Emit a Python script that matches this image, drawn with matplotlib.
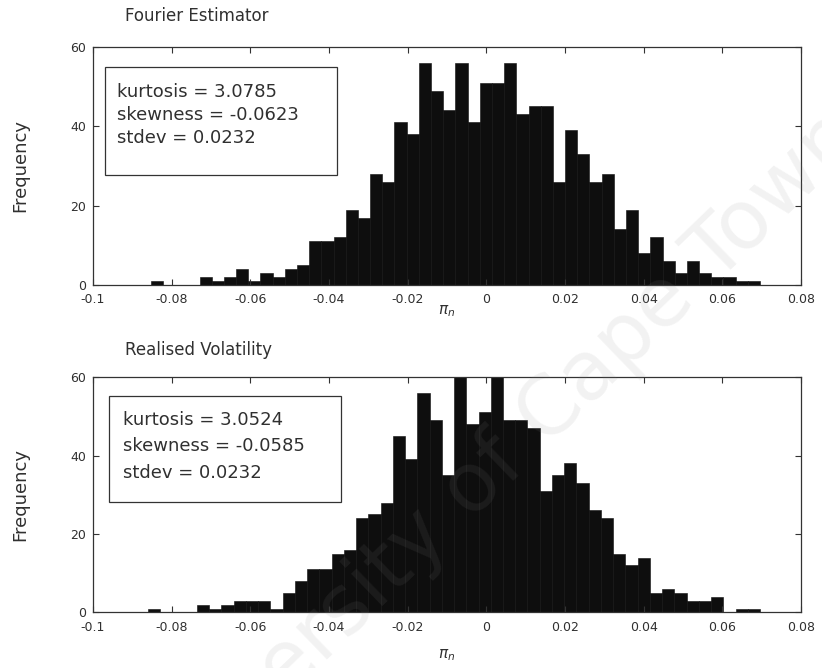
import numpy as np
import matplotlib.pyplot as plt
from matplotlib.patches import Rectangle

# histogram counts, 50 equal-width bins spanning the sample min..max
fourier_counts = [1, 0, 0, 0, 2, 1, 2, 4, 1, 3, 2, 4, 5, 11, 11, 12, 19, 17, 28, 26,
                  41, 38, 56, 49, 44, 56, 41, 51, 51, 56, 43, 45, 45, 26, 39, 33, 26, 28, 14, 19,
                  8, 12, 6, 3, 6, 3, 2, 2, 1, 1]
fourier_min, fourier_max = -0.0853, 0.0696

rv_counts = [1, 0, 0, 0, 2, 1, 2, 3, 3, 3, 1, 5, 8, 11, 11, 15, 16, 24, 25, 28,
             45, 39, 56, 49, 35, 60, 48, 51, 60, 49, 49, 47, 31, 35, 38, 33, 26, 24, 15, 12,
             14, 5, 6, 5, 3, 3, 4, 0, 1, 1]
rv_min, rv_max = -0.0860, 0.0696

fourier_stats = ['kurtosis = 3.0785', 'skewness = -0.0623', 'stdev = 0.0232']
rv_stats = ['kurtosis = 3.0524', 'skewness = -0.0585', 'stdev = 0.0232']

xticks = [-0.1, -0.08, -0.06, -0.04, -0.02, 0, 0.02, 0.04, 0.06, 0.08]
xticklabels = ['-0.1', '-0.08', '-0.06', '-0.04', '-0.02', '0', '0.02', '0.04', '0.06', '0.08']
yticks = [0, 20, 40, 60]

plt.rcParams['font.family'] = 'DejaVu Sans'
txt = '#303030'

fig = plt.figure(figsize=(8.22, 6.68), dpi=100)


def panel(rect, counts, lo, hi, title, stats, box, text_xy, spacing, title_y, xlab_y):
    ax = fig.add_axes(rect)
    edges = np.linspace(lo, hi, len(counts) + 1)
    ax.bar(edges[:-1], counts, width=np.diff(edges), align='edge',
           color='#0e0e0e', edgecolor='#0e0e0e', linewidth=0.4)
    ax.set_xlim(-0.1, 0.08)
    ax.set_ylim(0, 60)
    ax.set_xticks(xticks)
    ax.set_xticklabels(xticklabels)
    ax.set_yticks(yticks)
    ax.tick_params(direction='in', top=True, right=True, length=4,
                   width=0.8, labelsize=9, colors='#333333', labelcolor=txt)
    ax.tick_params(axis='x', pad=6)
    ax.tick_params(axis='y', pad=5)
    for s in ax.spines.values():
        s.set_color('#333333')
        s.set_linewidth(0.9)
    ax.set_ylabel('Frequency', fontsize=13, color=txt)
    ax.yaxis.set_label_coords(-0.090, 0.5)
    ax.set_xlabel(r'$\pi_n$', fontsize=11, color=txt)
    ax.xaxis.set_label_coords(0.5, xlab_y)
    ax.text(0.045, title_y, title, transform=ax.transAxes, fontsize=12,
            color=txt, ha='left', va='center')

    # statistics box
    x0, y0, x1, y1 = box
    ax.add_patch(Rectangle((x0, y0), x1 - x0, y1 - y0, transform=ax.transAxes,
                           facecolor='white', edgecolor='#333333', linewidth=0.9,
                           zorder=4))
    for i, line in enumerate(stats):
        ax.text(text_xy[0], text_xy[1] - i * spacing, line, transform=ax.transAxes,
                fontsize=13, color=txt, ha='left', va='center', zorder=5)
    return ax


panel([0.1131, 0.5734, 0.8613, 0.3563], fourier_counts, fourier_min, fourier_max,
      'Fourier Estimator', fourier_stats, (0.017, 0.462, 0.345, 0.915),
      (0.034, 0.812), 0.097, 1.13, -0.075)
panel([0.1131, 0.0831, 0.8613, 0.3525], rv_counts, rv_min, rv_max,
      'Realised Volatility', rv_stats, (0.0226, 0.468, 0.351, 0.919),
      (0.042, 0.817), 0.112, 1.115, -0.148)

# faint watermark across the page
fig.text(0.60, 0.30, 'University of Cape Town', rotation=44, fontsize=59,
         color='#8c8c8c', alpha=0.11, ha='center', va='center', zorder=10)

fig.savefig('out.png', dpi=100)
